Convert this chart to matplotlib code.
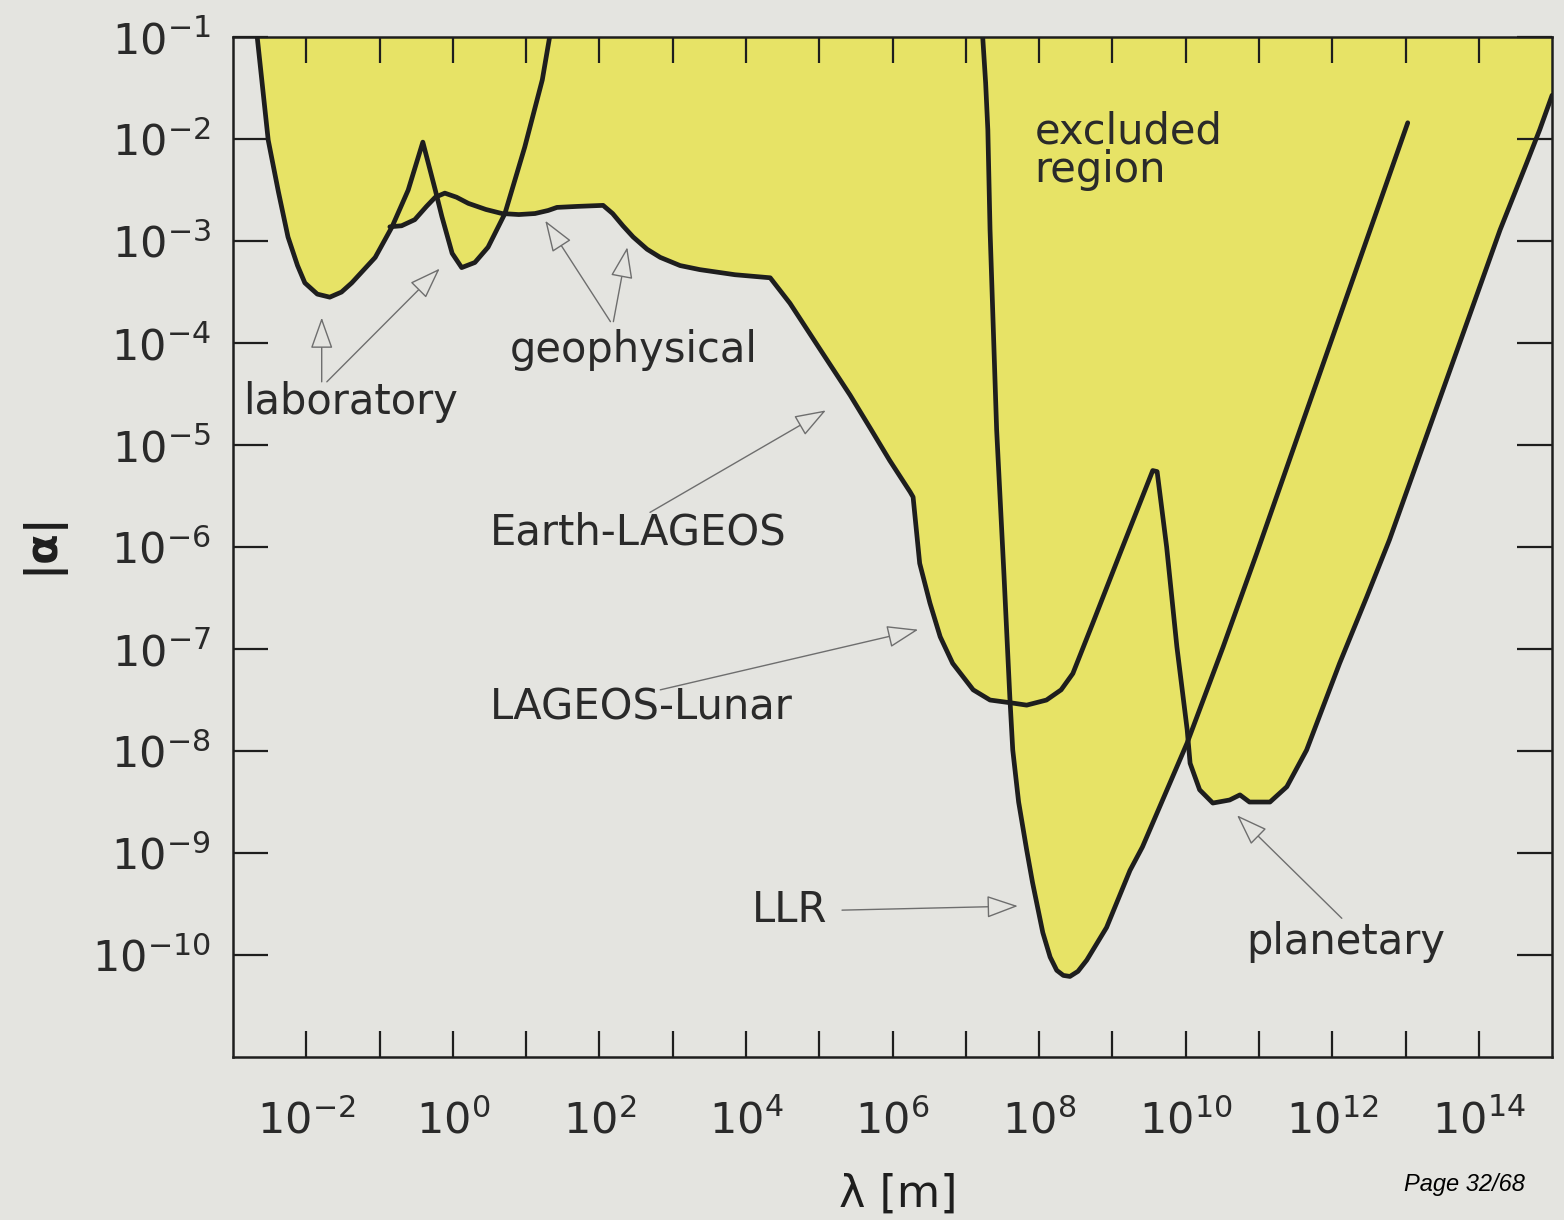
import numpy as np
import matplotlib.pyplot as plt

# log10 of lambda [m] and |alpha| along each bound
lab_x = np.array([-2.67, -2.52, -2.38, -2.25, -2.12, -2.02, -1.85, -1.68, -1.52, -1.38,
                  -1.06, -0.83, -0.61, -0.41, -0.24, -0.15, -0.01, 0.12, 0.30, 0.48,
                  0.71, 0.98, 1.22, 1.32])
lab_y = np.array([-1.0, -2.01, -2.52, -2.96, -3.24, -3.41, -3.52, -3.55, -3.50, -3.41,
                  -3.16, -2.86, -2.50, -2.03, -2.50, -2.76, -3.12, -3.26, -3.21, -3.06,
                  -2.73, -2.08, -1.42, -1.0])

geo_x = np.array([-0.86, -0.70, -0.52, -0.36, -0.24, -0.11, 0.05, 0.21, 0.45, 0.67,
                  0.90, 1.12, 1.30, 1.42, 1.70, 2.05, 2.18, 2.32, 2.46, 2.65,
                  2.83, 3.10, 3.37, 3.85, 4.33, 4.60, 5.00, 5.42, 5.70, 5.96,
                  6.24, 6.28, 6.37, 6.51, 6.65, 6.82, 7.10, 7.33, 7.64, 7.83,
                  8.10, 8.30, 8.46, 8.73, 9.10, 9.55, 9.61, 9.74, 9.88, 10.02,
                  10.06, 10.19, 10.37, 10.60, 10.74, 10.87, 11.15, 11.38, 11.65, 12.10,
                  12.47, 12.78, 13.50, 14.29, 14.65, 14.83, 15.0])
geo_y = np.array([-2.86, -2.85, -2.79, -2.66, -2.57, -2.53, -2.57, -2.63, -2.69, -2.73,
                  -2.74, -2.73, -2.70, -2.67, -2.66, -2.65, -2.73, -2.85, -2.96, -3.08,
                  -3.16, -3.24, -3.28, -3.33, -3.36, -3.61, -4.05, -4.51, -4.84, -5.15,
                  -5.46, -5.51, -6.16, -6.55, -6.88, -7.14, -7.40, -7.50, -7.53, -7.55,
                  -7.50, -7.40, -7.24, -6.75, -6.07, -5.25, -5.26, -6.00, -6.98, -7.79,
                  -8.12, -8.38, -8.51, -8.48, -8.43, -8.50, -8.50, -8.35, -7.99, -7.14,
                  -6.49, -5.93, -4.48, -2.89, -2.24, -1.91, -1.57])

llr_x = np.array([7.23, 7.27, 7.30, 7.33, 7.42, 7.52, 7.60, 7.64, 7.72, 7.83,
                  7.91, 8.05, 8.15, 8.24, 8.33, 8.42, 8.53, 8.65, 8.92, 9.24,
                  9.41, 10.02, 10.51, 10.97, 11.56, 13.03])
llr_y = np.array([-1.0, -1.45, -1.91, -2.89, -4.85, -6.27, -7.47, -7.99, -8.50, -8.97,
                  -9.29, -9.78, -10.02, -10.15, -10.20, -10.21, -10.16, -10.05, -9.73, -9.17,
                  -8.94, -7.92, -6.98, -6.06, -4.85, -1.84])

x_exp = np.arange(-2, 15)
y_exp = np.arange(-10, 0)

bg = '#e4e4e0'
yellow = '#e7e366'
ink = '#1e1e1e'
arrow_c = '#6e6e6e'

fig = plt.figure(figsize=(15.64, 12.2), dpi=100, facecolor=bg)
ax = fig.add_axes([0.149, 0.1336, 0.8434, 0.836])
ax.set_facecolor(bg)
ax.set_xscale('log')
ax.set_yscale('log')
ax.set_xlim(1e-3, 1e15)
ax.set_ylim(1e-11, 1e-1)

# excluded region = area above every bound
for cx, cy in [(lab_x, lab_y), (geo_x, geo_y), (llr_x, llr_y)]:
    ax.fill_between(10.0**cx, 10.0**cy, 1e-1, color=yellow, lw=0, zorder=1)
for cx, cy in [(lab_x, lab_y), (geo_x, geo_y), (llr_x, llr_y)]:
    ax.plot(10.0**cx, 10.0**cy, color=ink, lw=3.4, solid_joinstyle='round',
            solid_capstyle='round', zorder=3)

xlabels = [r'$\mathregular{10^{%d}}$' % e if e % 2 == 0 else '' for e in x_exp]
ylabels = [r'$\mathregular{10^{%d}}$' % e for e in y_exp]
ax.set_xticks(10.0**x_exp, labels=xlabels, fontsize=31)
ax.set_yticks(10.0**y_exp, labels=ylabels, fontsize=31)
ax.minorticks_off()
ax.tick_params(axis='x', which='major', direction='in', length=19, width=1.6,
               colors=ink, labelcolor='#2a2a2a', top=True, pad=31)
ax.tick_params(axis='y', which='major', direction='in', length=25, width=1.6,
               colors=ink, labelcolor='#2a2a2a', right=True, pad=16)
for sp in ax.spines.values():
    sp.set_linewidth(1.8)
    sp.set_color(ink)
    sp.set_zorder(4)

fig.text(0.5742, 0.021, 'λ [m]', fontsize=32, ha='center', va='center', color=ink)
fig.text(0.026, 0.555, '|α|', fontsize=32, fontweight='bold', rotation=90,
         ha='center', va='center', color=ink)
fig.text(0.898, 0.029, 'Page 32/68', fontsize=17, style='italic', family='Liberation Sans',
         ha='left', va='center', color='black')

# labels and arrows for each experiment
tf = dict(fontsize=30, color='#2a2a2a', zorder=5)
ap = dict(arrowstyle='-|>,head_length=0.9,head_width=0.32', mutation_scale=22,
          color=arrow_c, fc=bg, lw=1.0, shrinkA=0, shrinkB=0)

ax.text(10**7.94, 10**-1.72, 'excluded\nregion', ha='left', va='top', linespacing=0.9, **tf)

ax.text(10**-2.86, 10**-4.58, 'laboratory', ha='left', va='center', **tf)
ax.annotate('', xy=(10**-1.79, 10**-3.75), xytext=(10**-1.79, 10**-4.38), arrowprops=ap)
ax.annotate('', xy=(10**-0.18, 10**-3.27), xytext=(10**-1.72, 10**-4.38), arrowprops=ap)

ax.text(10**0.78, 10**-4.07, 'geophysical', ha='left', va='center', **tf)
ax.annotate('', xy=(10**1.26, 10**-2.80), xytext=(10**2.15, 10**-3.79), arrowprops=ap)
ax.annotate('', xy=(10**2.38, 10**-3.06), xytext=(10**2.19, 10**-3.79), arrowprops=ap)

ax.text(10**0.51, 10**-5.86, 'Earth-LAGEOS', ha='left', va='center', **tf)
ax.annotate('', xy=(10**5.09, 10**-4.66), xytext=(10**2.69, 10**-5.66), arrowprops=ap)

ax.text(10**0.51, 10**-7.57, 'LAGEOS-Lunar', ha='left', va='center', **tf)
ax.annotate('', xy=(10**6.35, 10**-6.81), xytext=(10**2.83, 10**-7.40), arrowprops=ap)

ax.text(10**4.08, 10**-9.56, 'LLR', ha='left', va='center', **tf)
ax.annotate('', xy=(10**7.71, 10**-9.52), xytext=(10**5.31, 10**-9.56), arrowprops=ap)

ax.text(10**10.83, 10**-9.87, 'planetary', ha='left', va='center', **tf)
ax.annotate('', xy=(10**10.70, 10**-8.63), xytext=(10**12.13, 10**-9.64), arrowprops=ap)

fig.savefig('out.png', dpi=100, facecolor=bg)
